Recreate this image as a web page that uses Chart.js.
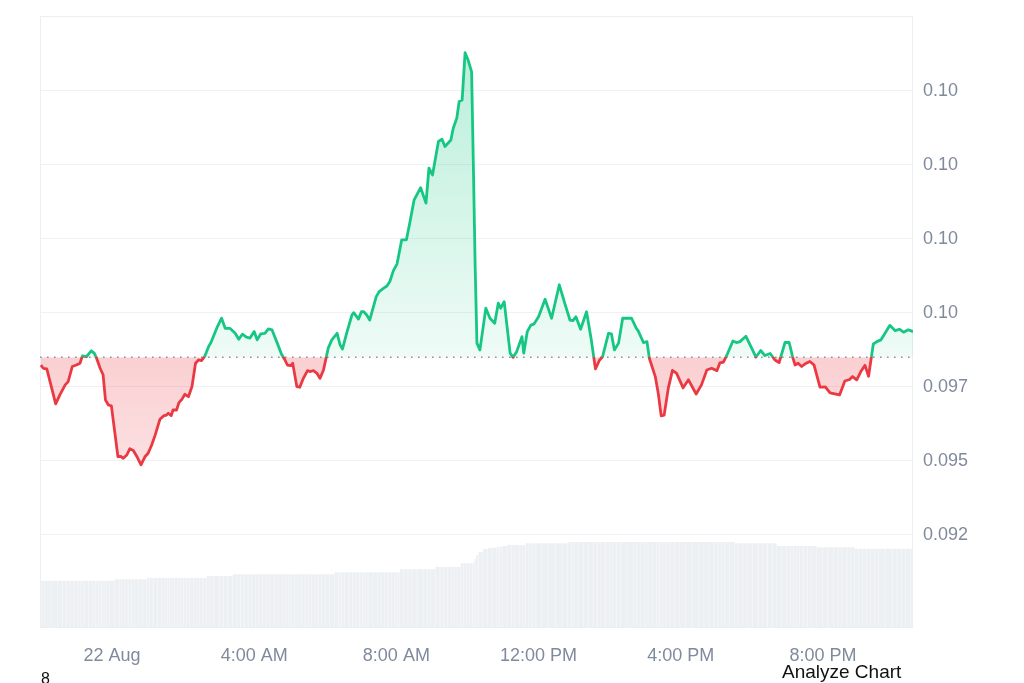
<!DOCTYPE html>
<html>
<head>
<meta charset="utf-8">
<title>Price chart</title>
<script src="https://cdn.jsdelivr.net/npm/chart.js@4.4.1/dist/chart.umd.min.js"></script>
<style>
html, body { margin: 0; padding: 0; background: #fff; overflow: hidden; }
#wrap { position: relative; width: 1024px; height: 683px; }
#box { position: absolute; left: 0; top: 0; width: 1024px; height: 683px; }
.note { position: absolute; font-family: "Liberation Sans", Arial, sans-serif; color: #111; white-space: nowrap; }
</style>
</head>
<body>
<div id="wrap">
	<div id="box"><canvas id="priceChart"></canvas></div>
	<div class="note" style="left:41px; top:671px; font-size:16px; line-height:16px;">8</div>
	<div class="note" style="left:782px; top:662px; font-size:19px; line-height:19px;">Analyze Chart</div>
</div>
<script>
// minutes from midnight of 22 Aug
var timeMinutes = [
	-120,-116,-110,-95,-88,-79,-74,-67,-60,-54,
	-50,-43,-35,-30,-26,-20,-15,-11,-6,-1,
	10,15,19,25,30,36,42,49,56,61,
	67,73,81,87,92,95,100,103,109,113,
	118,123,129,135,141,146,151,157,163,167,
	178,185,191,199,208,214,220,227,233,240,
	245,251,258,264,270,278,286,292,296,302,
	305,312,317,323,330,334,340,346,351,357,
	365,371,380,385,389,396,405,408,416,421,
	425,430,435,446,451,458,464,469,475,481,
	483,489,497,503,510,521,530,535,541,551,
	557,562,572,576,582,586,591,596,601,607,
	610,613,616,621,631,638,646,652,656,662,
	672,677,683,692,695,701,707,712,720,731,
	742,755,765,773,778,783,791,801,809,816,
	823,828,838,843,848,855,862,877,885,888,
	897,903,907,917,922,927,932,939,946,953,
	964,973,986,995,1004,1012,1021,1026,1032,1038,
	1048,1054,1060,1070,1077,1087,1095,1102,1111,1119,
	1126,1136,1143,1149,1153,1158,1164,1170,1178,1185,
	1195,1204,1212,1224,1228,1237,1245,1250,1257,1264,
	1271,1277,1285,1291,1298,1313,1322,1329,1336,1344,
	1352
];

var priceUsd = [
	0.09824,0.09813,0.09811,0.09693,0.09723,0.09757,0.09768,0.09819,0.09824,0.09830,
	0.09855,0.09852,0.09872,0.09864,0.09847,0.09813,0.09791,0.09706,0.09689,0.09686,
	0.09515,0.09515,0.09509,0.09520,0.09541,0.09535,0.09515,0.09487,0.09515,0.09526,
	0.09554,0.09588,0.09641,0.09652,0.09655,0.09661,0.09653,0.09672,0.09672,0.09697,
	0.09708,0.09725,0.09717,0.09751,0.09830,0.09841,0.09839,0.09855,0.09886,0.09900,
	0.09954,0.09982,0.09948,0.09948,0.09931,0.09911,0.09928,0.09918,0.09915,0.09937,
	0.09909,0.09929,0.09931,0.09946,0.09943,0.09903,0.09861,0.09841,0.09824,0.09822,
	0.09830,0.09751,0.09749,0.09779,0.09805,0.09802,0.09805,0.09796,0.09779,0.09807,
	0.09881,0.09909,0.09931,0.09892,0.09878,0.09931,0.09993,0.10001,0.09979,0.10004,
	0.10004,0.09993,0.09976,0.10055,0.10072,0.10083,0.10091,0.10106,0.10143,0.10165,
	0.10185,0.10247,0.10247,0.10308,0.10382,0.10423,0.10371,0.10489,0.10466,0.10579,
	0.10587,0.10562,0.10584,0.10624,0.10658,0.10714,0.10719,0.10879,0.10855,0.10814,
	0.10494,0.10156,0.09898,0.09875,0.10016,0.09982,0.09965,0.10033,0.10016,0.10038,
	0.09864,0.09850,0.09869,0.09920,0.09864,0.09937,0.09959,0.09962,0.09987,0.10046,
	0.09982,0.10095,0.10027,0.09976,0.09974,0.09987,0.09945,0.10004,0.09909,0.09811,
	0.09841,0.09852,0.09931,0.09929,0.09875,0.09898,0.09982,0.09982,0.09948,0.09940,
	0.09900,0.09903,0.09847,0.09785,0.09729,0.09652,0.09655,0.09746,0.09806,0.09796,
	0.09747,0.09774,0.09726,0.09757,0.09807,0.09813,0.09805,0.09831,0.09834,0.09858,
	0.09905,0.09900,0.09903,0.09921,0.09892,0.09851,0.09873,0.09856,0.09863,0.09841,
	0.09832,0.09900,0.09900,0.09850,0.09824,0.09830,0.09819,0.09828,0.09836,0.09824,
	0.09749,0.09750,0.09730,0.09725,0.09723,0.09770,0.09775,0.09785,0.09774,0.09802,
	0.09823,0.09786,0.09895,0.09903,0.09909,0.09958,0.09940,0.09945,0.09935,0.09943,
	0.09937
];

// 24h volume, millions
var volumeM = [
	4.63,4.63,4.63,4.63,4.63,4.63,4.63,4.63,4.63,4.63,
	4.63,4.63,4.63,4.63,4.63,4.63,4.63,4.63,4.63,4.63,
	4.77,4.77,4.77,4.77,4.77,4.77,4.77,4.77,4.77,4.93,
	4.93,4.93,4.93,4.93,4.93,4.93,4.93,4.93,4.93,4.93,
	4.93,4.93,4.93,4.93,4.93,4.93,4.93,4.93,5.10,5.10,
	5.10,5.10,5.10,5.10,5.27,5.27,5.27,5.27,5.27,5.27,
	5.27,5.27,5.27,5.27,5.27,5.27,5.27,5.27,5.27,5.27,
	5.27,5.27,5.27,5.27,5.27,5.27,5.27,5.27,5.27,5.27,
	5.27,5.27,5.47,5.47,5.47,5.47,5.47,5.47,5.47,5.47,
	5.47,5.47,5.47,5.47,5.47,5.47,5.47,5.47,5.47,5.47,
	5.47,5.77,5.77,5.77,5.77,5.77,5.77,5.77,5.77,6.03,
	6.03,6.03,6.03,6.03,6.03,6.03,6.37,6.37,6.37,6.37,
	6.40,6.80,7.20,7.50,7.80,7.90,7.95,8.00,8.03,8.10,
	8.20,8.20,8.20,8.20,8.20,8.37,8.37,8.37,8.37,8.37,
	8.37,8.37,8.37,8.50,8.50,8.50,8.50,8.50,8.50,8.50,
	8.50,8.50,8.50,8.50,8.50,8.50,8.50,8.50,8.50,8.50,
	8.50,8.50,8.50,8.50,8.50,8.50,8.50,8.50,8.50,8.50,
	8.50,8.50,8.50,8.50,8.50,8.50,8.50,8.50,8.50,8.50,
	8.50,8.37,8.37,8.37,8.37,8.37,8.37,8.37,8.37,8.37,
	8.10,8.10,8.10,8.10,8.10,8.10,8.10,8.10,8.10,8.10,
	7.97,7.97,7.97,7.97,7.97,7.97,7.97,7.97,7.83,7.83,
	7.83,7.83,7.83,7.83,7.83,7.83,7.83,7.83,7.83,7.83,
	7.83
];

var openPrice = 0.0985;
var xMin = -121.5, xMax = 1352;
var yMin = 0.08939, yMax = 0.11003;
var volMax = 61.1;
var xTickValues = [0, 240, 480, 720, 960, 1200];
var xTickLabels = ['22 Aug', '4:00 AM', '8:00 AM', '12:00 PM', '4:00 PM', '8:00 PM'];
var yTickValues = [0.0925, 0.095, 0.0975, 0.1, 0.1025, 0.105, 0.1075];
var yTickLabels = ['0.092', '0.095', '0.097', '0.10', '0.10', '0.10', '0.10'];

var upColor = '#16c784';
var downColor = '#ea3943';
var axisText = '#808a9d';
var fontFamily = '"Liberation Sans", Arial, Helvetica, sans-serif';

function basePixel(chart){
	return chart.scales.y.getPixelForValue(openPrice);
}

function lineColor(context){
	var chart = context.chart;
	var area = chart.chartArea;
	if(!area){
		return upColor;
	}
	var stop = (basePixel(chart) - area.top) / (area.bottom - area.top);
	stop = Math.min(Math.max(stop, 0), 1);
	var g = chart.ctx.createLinearGradient(0, area.top, 0, area.bottom);
	g.addColorStop(0, upColor);
	g.addColorStop(stop, upColor);
	g.addColorStop(stop, downColor);
	g.addColorStop(1, downColor);
	return g;
}

function fillAbove(context){
	var chart = context.chart;
	var area = chart.chartArea;
	if(!area){
		return 'rgba(22,199,132,0.15)';
	}
	var g = chart.ctx.createLinearGradient(0, area.top, 0, basePixel(chart));
	g.addColorStop(0, 'rgba(22,199,132,0.32)');
	g.addColorStop(1, 'rgba(22,199,132,0.07)');
	return g;
}

function fillBelow(context){
	var chart = context.chart;
	var area = chart.chartArea;
	if(!area){
		return 'rgba(234,57,67,0.15)';
	}
	var g = chart.ctx.createLinearGradient(0, basePixel(chart), 0, area.bottom);
	g.addColorStop(0, 'rgba(234,57,67,0.24)');
	g.addColorStop(1, 'rgba(234,57,67,0.03)');
	return g;
}

var pricePoints = timeMinutes.map(function(t, i){ return {x: t, y: priceUsd[i]}; });
var volumePoints = timeMinutes.map(function(t, i){ return {x: t, y: volumeM[i]}; });

// light frame round the plot area
var framePlugin = {
	id: 'frame',
	beforeDatasetsDraw: function(chart){
		var a = chart.chartArea;
		var c = chart.ctx;
		c.save();
		c.strokeStyle = '#eceff2';
		c.lineWidth = 1;
		c.strokeRect(a.left + 0.5, a.top + 0.5, a.right - a.left - 1, a.bottom - a.top);
		c.restore();
	}
};

var config = {};
config.type = 'line';
config.data = {};
config.data.datasets = [
	{
		label: 'Price',
		data: pricePoints,
		yAxisID: 'y',
		borderColor: lineColor,
		borderWidth: 2.8,
		borderJoinStyle: 'round',
		pointRadius: 0,
		tension: 0,
		fill: {target: {value: openPrice}, above: fillAbove, below: fillBelow},
		order: 1
	},
	{
		label: 'Open',
		data: [{x: xMin, y: openPrice}, {x: xMax, y: openPrice}],
		yAxisID: 'y',
		borderColor: '#8f96a3',
		borderWidth: 1.4,
		borderDash: [1.6, 5.4],
		pointRadius: 0,
		fill: false,
		order: 2
	},
	{
		type: 'bar',
		label: 'Volume',
		data: volumePoints,
		yAxisID: 'yv',
		backgroundColor: '#edf0f3',
		borderColor: '#f4f6f8',
		borderWidth: {left: 0, right: 1, top: 0, bottom: 0},
		borderSkipped: false,
		barThickness: 'flex',
		categoryPercentage: 1,
		barPercentage: 1,
		order: 3
	}
];
config.options = {
	responsive: true,
	maintainAspectRatio: false,
	animation: false,
	events: [],
	layout: {padding: {left: 40, top: 16, right: 0, bottom: 0}},
	plugins: {
		legend: {display: false},
		tooltip: {enabled: false}
	},
	scales: {
		x: {
			type: 'linear',
			min: xMin,
			max: xMax,
			offset: false,
			grid: {display: false, offset: false},
			border: {display: false},
			afterBuildTicks: function(scale){
				scale.ticks = xTickValues.map(function(v){ return {value: v}; });
			},
			afterFit: function(scale){ scale.height = 56; },
			ticks: {
				autoSkip: false,
				maxRotation: 0,
				padding: 10,
				color: axisText,
				font: {family: fontFamily, size: 18},
				callback: function(value){
					var i = xTickValues.indexOf(value);
					return i < 0 ? '' : xTickLabels[i];
				}
			}
		},
		y: {
			position: 'right',
			min: yMin,
			max: yMax,
			grid: {color: '#eff1f4', lineWidth: 1, drawTicks: false},
			border: {display: false},
			afterBuildTicks: function(scale){
				scale.ticks = yTickValues.map(function(v){ return {value: v}; });
			},
			afterFit: function(scale){
				scale.width = 111;
				scale.paddingTop = 0;
				scale.paddingBottom = 0;
			},
			ticks: {
				padding: 10,
				crossAlign: 'near',
				color: axisText,
				font: {family: fontFamily, size: 18},
				callback: function(value){
					var i = yTickValues.indexOf(value);
					return i < 0 ? '' : yTickLabels[i];
				}
			}
		},
		yv: {
			display: false,
			min: 0,
			max: volMax
		}
	}
};
config.plugins = [framePlugin];

window.priceChart = new Chart(document.getElementById('priceChart'), config);
</script>
</body>
</html>
